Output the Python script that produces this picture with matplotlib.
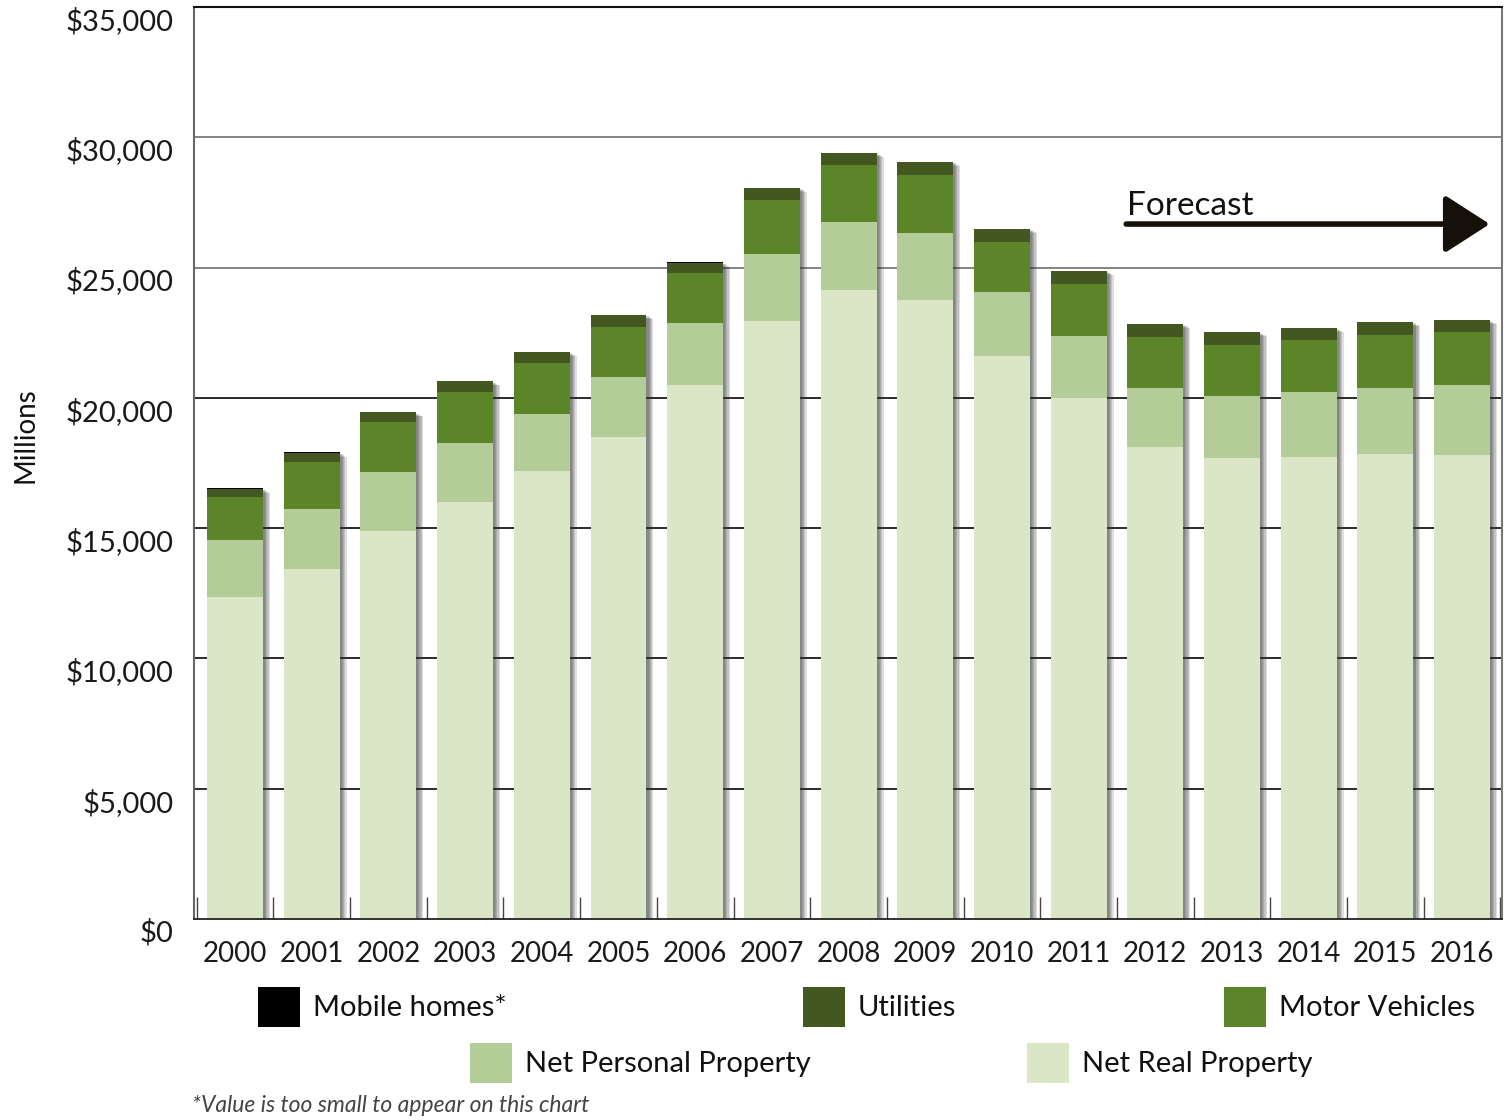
import matplotlib
matplotlib.use('Agg')
import matplotlib.pyplot as plt
import matplotlib.patheffects as pe
from matplotlib.patches import Rectangle
import numpy as np

plt.rcParams['font.family'] = ['Lato', 'DejaVu Sans']

# Values in millions of dollars
years = [str(y) for y in range(2000, 2017)]
net_real = [12340, 13450, 14880, 15990, 17180, 18490, 20490, 22950, 24150,
            23760, 21610, 20010, 18110, 17680, 17720, 17840, 17800]
net_personal = [2190, 2270, 2270, 2270, 2200, 2310, 2390, 2580, 2610,
                2580, 2460, 2370, 2270, 2390, 2500, 2540, 2680]
motor_vehicles = [1650, 1810, 1920, 1960, 1960, 1920, 1920, 2080, 2190,
                  2230, 1920, 2000, 1960, 1960, 2010, 2040, 2050]
utilities = [340, 370, 370, 410, 410, 450, 390, 450, 450,
             490, 490, 490, 490, 490, 440, 480, 450]
mobile_homes = [5] * 17  # too small to show

y_ticks = [0, 5000, 10000, 15000, 20000, 25000, 30000, 35000]

colors = {
    'Net Real Property': '#dae6c5',
    'Net Personal Property': '#b4cc98',
    'Motor Vehicles': '#5c8428',
    'Utilities': '#435820',
    'Mobile homes*': '#000000',
}

W, H = 1511, 1120
fig = plt.figure(figsize=(W / 100, H / 100), dpi=100)
ax = fig.add_axes([194 / W, 1 - 919 / H, (1502 - 194) / W, (919 - 7) / H])

x = np.arange(len(years))
width = 0.73

# gridlines behind bars
for yv in y_ticks[1:-1]:
    c = '#1a1a1a' if yv <= 20000 else '#7a7a7a'
    ax.axhline(yv, color=c, lw=1.3, zorder=0.5)

# soft shadow behind full stack (several faint layers)
totals = (np.array(net_real) + np.array(net_personal) + np.array(motor_vehicles)
          + np.array(utilities) + np.array(mobile_homes))
shadow = [pe.SimplePatchShadow(offset=(o, -0.6 * o), shadow_rgbFace='#333333', alpha=0.16)
          for o in (5.0, 4.0, 3.0, 2.2, 1.5)]
ax.bar(x, totals, width, color='white', zorder=1, lw=0,
       path_effects=shadow + [pe.Normal()])

bottom = np.zeros(len(years))
series = [('Net Real Property', net_real), ('Net Personal Property', net_personal),
          ('Motor Vehicles', motor_vehicles), ('Utilities', utilities),
          ('Mobile homes*', mobile_homes)]
for name, vals in series:
    ax.bar(x, vals, width, bottom=bottom, color=colors[name], zorder=2, lw=0)
    bottom += np.array(vals)

ax.set_xlim(-0.535, 16.52)
ax.set_ylim(0, 35000)

# axes frame
ax.spines['top'].set_color('#111111')
ax.spines['top'].set_linewidth(1.5)
ax.spines['left'].set_color('#666666')
ax.spines['left'].set_linewidth(1.5)
ax.spines['right'].set_color('#777777')
ax.spines['right'].set_linewidth(1.5)
ax.spines['bottom'].set_color('#222222')
ax.spines['bottom'].set_linewidth(1.3)

ax.set_yticks(y_ticks)
ax.set_yticklabels([f'${v:,}' for v in y_ticks], fontsize=21, color='#1a1a1a')
for lab in ax.get_yticklabels():
    lab.set_va('top')
ax.tick_params(axis='y', length=0, pad=15)

ax.set_xticks(x)
ax.set_xticklabels(years, fontsize=20, color='#1a1a1a')
ax.tick_params(axis='x', which='major', length=0, pad=16)
ax.set_xticks(np.arange(-0.5, 16.6, 1.0), minor=True)
ax.tick_params(axis='x', which='minor', direction='in', length=16, width=1.0, color='#444444')

fig.text(25 / W, 1 - 435 / H, 'Millions', rotation=90, fontsize=20,
         ha='center', va='center', color='#111111')

# forecast arrow
ax.annotate('', xy=(16.36, 26670), xytext=(11.62, 26670),
            arrowprops=dict(arrowstyle='-|>,head_length=1.4,head_width=0.9',
                            lw=4, color='#15110a', mutation_scale=20, shrinkA=0, shrinkB=0))
ax.text(11.63, 27000, 'Forecast', fontsize=24, color='#111111', ha='left', va='baseline')

# legend drawn by hand
legend_items = [
    ('Mobile homes*', 258, 987),
    ('Utilities', 803, 987),
    ('Motor Vehicles', 1224, 987),
    ('Net Personal Property', 470, 1043),
    ('Net Real Property', 1027, 1043),
]
for name, px, py in legend_items:
    fig.add_artist(Rectangle((px / W, 1 - (py + 40) / H), 42 / W, 40 / H,
                             transform=fig.transFigure, color=colors[name], lw=0))
    fig.text((px + 55) / W, 1 - (py + 21) / H, name, fontsize=21,
             ha='left', va='center', color='#111111')

fig.text(192 / W, 1 - 1105 / H, '*Value is too small to appear on this chart',
         fontsize=16.5, style='italic', ha='left', va='center', color='#444444')

fig.savefig('out.png', dpi=100)
